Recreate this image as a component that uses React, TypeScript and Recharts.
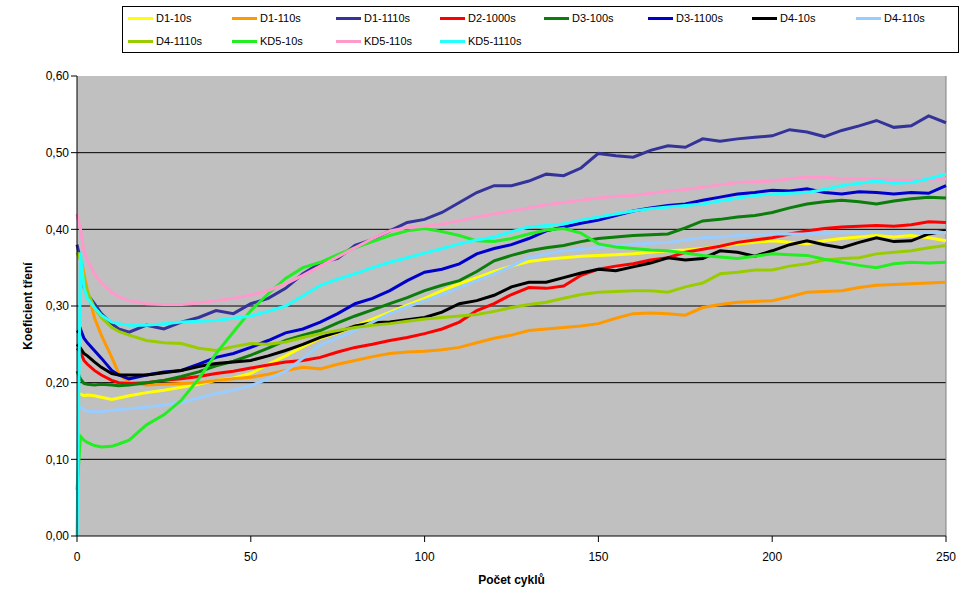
import React from 'react';
import { LineChart, Line, XAxis, YAxis, CartesianGrid, ReferenceLine } from 'recharts';

const cycles = [0, 1, 2, 3, 5, 7, 10, 12, 15,
  20, 25, 30, 35, 40, 45, 50, 55, 60, 65,
  70, 75, 80, 85, 90, 95, 100, 105, 110, 115,
  120, 125, 130, 135, 140, 145, 150, 155, 160, 165,
  170, 175, 180, 185, 190, 195, 200, 205, 210, 215,
  220, 225, 230, 235, 240, 245, 250];

const D1_10s = [0.186, 0.185, 0.183, 0.184, 0.183, 0.181, 0.178, 0.18, 0.183,
  0.187, 0.19, 0.194, 0.198, 0.203, 0.206, 0.212, 0.224, 0.235, 0.247,
  0.258, 0.265, 0.274, 0.283, 0.292, 0.301, 0.31, 0.32, 0.329, 0.337,
  0.345, 0.352, 0.358, 0.361, 0.363, 0.365, 0.366, 0.367, 0.368, 0.37,
  0.372, 0.373, 0.375, 0.378, 0.381, 0.383, 0.385, 0.383, 0.381, 0.385,
  0.388, 0.39, 0.392, 0.39, 0.392, 0.389, 0.385];

const D1_110s = [0.37, 0.365, 0.342, 0.32, 0.285, 0.262, 0.233, 0.212, 0.2,
  0.197, 0.198, 0.199, 0.2, 0.203, 0.205, 0.207, 0.211, 0.216, 0.22,
  0.218, 0.224, 0.229, 0.234, 0.238, 0.24, 0.241, 0.243, 0.246, 0.252,
  0.258, 0.262, 0.268, 0.27, 0.272, 0.274, 0.277, 0.284, 0.29, 0.291,
  0.29, 0.288, 0.298, 0.302, 0.305, 0.306, 0.307, 0.312, 0.318, 0.319,
  0.32, 0.324, 0.327, 0.328, 0.329, 0.33, 0.331];

const D1_1110s = [0.38, 0.36, 0.324, 0.315, 0.303, 0.29, 0.277, 0.27, 0.266,
  0.275, 0.27, 0.279, 0.285, 0.294, 0.29, 0.303, 0.31, 0.323, 0.342,
  0.356, 0.362, 0.379, 0.387, 0.398, 0.409, 0.413, 0.422, 0.435, 0.448,
  0.457, 0.457, 0.463, 0.472, 0.47, 0.48, 0.499, 0.496, 0.494, 0.503,
  0.509, 0.507, 0.518, 0.515, 0.518, 0.52, 0.522, 0.53, 0.527, 0.521,
  0.529, 0.535, 0.542, 0.533, 0.535, 0.548, 0.539];

const D2_1000s = [0.245, 0.24, 0.229, 0.224, 0.216, 0.21, 0.203, 0.2, 0.199,
  0.2, 0.203, 0.205, 0.208, 0.212, 0.215, 0.219, 0.223, 0.227, 0.229,
  0.233, 0.24, 0.246, 0.25, 0.255, 0.259, 0.264, 0.27, 0.279, 0.294,
  0.303, 0.315, 0.324, 0.323, 0.326, 0.34, 0.348, 0.352, 0.355, 0.36,
  0.363, 0.37, 0.374, 0.378, 0.383, 0.386, 0.389, 0.394, 0.398, 0.401,
  0.403, 0.404, 0.405, 0.404, 0.406, 0.41, 0.409];

const D3_100s = [0.215, 0.205, 0.199, 0.198, 0.197, 0.198, 0.197, 0.196, 0.197,
  0.2, 0.203, 0.208, 0.214, 0.222, 0.228, 0.236, 0.245, 0.255, 0.262,
  0.268, 0.278, 0.287, 0.295, 0.303, 0.311, 0.32, 0.327, 0.333, 0.345,
  0.359, 0.366, 0.372, 0.376, 0.379, 0.384, 0.388, 0.39, 0.392, 0.393,
  0.394, 0.402, 0.411, 0.413, 0.416, 0.418, 0.422, 0.428, 0.433, 0.436,
  0.438, 0.436, 0.433, 0.437, 0.44, 0.442, 0.441];

const D3_1100s = [0.265, 0.27, 0.258, 0.252, 0.242, 0.232, 0.216, 0.21, 0.205,
  0.21, 0.214, 0.216, 0.224, 0.233, 0.238, 0.246, 0.255, 0.265, 0.27,
  0.279, 0.29, 0.303, 0.31, 0.32, 0.333, 0.344, 0.348, 0.355, 0.368,
  0.375, 0.38, 0.388, 0.398, 0.403, 0.408, 0.412, 0.418, 0.424, 0.428,
  0.431, 0.433, 0.438, 0.442, 0.446, 0.448, 0.451, 0.45, 0.453, 0.448,
  0.446, 0.449, 0.448, 0.446, 0.448, 0.447, 0.457];

const D4_10s = [0.25, 0.245, 0.238, 0.235, 0.227, 0.22, 0.212, 0.21, 0.21,
  0.21, 0.213, 0.216, 0.221, 0.225, 0.227, 0.229, 0.235, 0.242, 0.25,
  0.259, 0.266, 0.274, 0.278, 0.279, 0.282, 0.285, 0.292, 0.303, 0.307,
  0.314, 0.325, 0.331, 0.331, 0.337, 0.343, 0.348, 0.346, 0.351, 0.356,
  0.363, 0.36, 0.362, 0.372, 0.37, 0.365, 0.372, 0.38, 0.385, 0.38,
  0.376, 0.383, 0.389, 0.384, 0.385, 0.394, 0.398];

const D4_110s = [0.17, 0.168, 0.165, 0.163, 0.162, 0.162, 0.164, 0.165, 0.166,
  0.168, 0.171, 0.174, 0.18, 0.186, 0.19, 0.196, 0.205, 0.215, 0.232,
  0.249, 0.258, 0.268, 0.279, 0.29, 0.299, 0.307, 0.315, 0.324, 0.333,
  0.342, 0.352, 0.363, 0.368, 0.372, 0.374, 0.376, 0.379, 0.381, 0.382,
  0.383, 0.386, 0.389, 0.39, 0.392, 0.393, 0.394, 0.394, 0.394, 0.395,
  0.396, 0.396, 0.396, 0.396, 0.396, 0.396, 0.396];

const D4_1110s = [0.37, 0.36, 0.333, 0.318, 0.298, 0.285, 0.272, 0.267, 0.262,
  0.255, 0.252, 0.251, 0.245, 0.242, 0.247, 0.251, 0.25, 0.253, 0.259,
  0.264, 0.268, 0.272, 0.275, 0.277, 0.28, 0.283, 0.285, 0.287, 0.289,
  0.293, 0.298, 0.302, 0.305, 0.31, 0.315, 0.318, 0.319, 0.32, 0.32,
  0.318, 0.325, 0.33, 0.342, 0.344, 0.347, 0.347, 0.352, 0.355, 0.36,
  0.362, 0.363, 0.368, 0.37, 0.372, 0.376, 0.379];

const KD5_10s = [0.06, 0.13, 0.125, 0.122, 0.118, 0.116, 0.117, 0.12, 0.125,
  0.145, 0.158, 0.177, 0.205, 0.238, 0.266, 0.294, 0.316, 0.336, 0.35,
  0.357, 0.367, 0.376, 0.384, 0.392, 0.398, 0.401, 0.397, 0.392, 0.385,
  0.384, 0.388, 0.394, 0.399, 0.401, 0.395, 0.381, 0.377, 0.375, 0.373,
  0.372, 0.369, 0.366, 0.364, 0.362, 0.365, 0.368, 0.367, 0.366, 0.361,
  0.357, 0.353, 0.35, 0.355, 0.357, 0.356, 0.357];

const KD5_110s = [0.42, 0.4, 0.372, 0.36, 0.342, 0.33, 0.318, 0.312, 0.307,
  0.303, 0.302, 0.302, 0.304, 0.307, 0.31, 0.314, 0.32, 0.329, 0.34,
  0.352, 0.364, 0.376, 0.388, 0.398, 0.402, 0.404, 0.407, 0.411, 0.416,
  0.42, 0.424, 0.428, 0.432, 0.435, 0.438, 0.441, 0.443, 0.444, 0.447,
  0.45, 0.452, 0.455, 0.458, 0.461, 0.462, 0.463, 0.466, 0.468, 0.468,
  0.466, 0.466, 0.465, 0.464, 0.464, 0.465, 0.466];

const KD5_1110s = [0, 0.37, 0.324, 0.31, 0.298, 0.288, 0.279, 0.277, 0.275,
  0.275, 0.277, 0.279, 0.28, 0.281, 0.284, 0.287, 0.293, 0.3, 0.313,
  0.327, 0.335, 0.342, 0.35, 0.357, 0.363, 0.369, 0.375, 0.381, 0.386,
  0.39, 0.397, 0.403, 0.405, 0.407, 0.412, 0.416, 0.42, 0.424, 0.427,
  0.429, 0.431, 0.433, 0.437, 0.441, 0.444, 0.446, 0.447, 0.448, 0.452,
  0.457, 0.46, 0.463, 0.46, 0.461, 0.466, 0.472];

const seriesNames = ['D1-10s', 'D1-110s', 'D1-1110s', 'D2-1000s', 'D3-100s', 'D3-1100s',
  'D4-10s', 'D4-110s', 'D4-1110s', 'KD5-10s', 'KD5-110s', 'KD5-1110s'];
const seriesValues = [D1_10s, D1_110s, D1_1110s, D2_1000s, D3_100s, D3_1100s,
  D4_10s, D4_110s, D4_1110s, KD5_10s, KD5_110s, KD5_1110s];
const seriesColors = ['#ffff00', '#ff9900', '#333399', '#ff0000', '#0a7d0a', '#0000cc',
  '#000000', '#99ccff', '#99cc00', '#22ee22', '#ff99cc', '#22ffff'];

const xTicks = [0, 50, 100, 150, 200, 250];
const yTicks = [0, 0.1, 0.2, 0.3, 0.4, 0.5, 0.6];
const gridValues = [0.1, 0.2, 0.3, 0.4, 0.5];
const xTitle = 'Počet cyklů';
const yTitle = 'Koeficient tření';

const data = cycles.map((c, i) => {
  const row: Record<string, number> = { c };
  seriesNames.forEach((n, k) => { row[n] = seriesValues[k][i]; });
  return row;
});

const FONT = '"Liberation Sans", Arial, sans-serif';

const fmt = (v: number) => v.toFixed(2).replace('.', ',');

function LegendBox() {
  return (
    <div style={{
      position: 'absolute', left: 122, top: 6, width: 835, height: 45,
      border: '1px solid #000', background: '#fff', fontFamily: FONT, fontSize: 11,
    }}>
      {seriesNames.map((n, i) => {
        const col = i % 8;
        const row = Math.floor(i / 8);
        return (
          <div key={n} style={{
            position: 'absolute', left: 5 + col * 104, top: 4 + row * 23, height: 14,
            display: 'flex', alignItems: 'center', whiteSpace: 'nowrap',
          }}>
            <span style={{ display: 'inline-block', width: 25, height: 3, background: seriesColors[i], marginRight: 3 }} />
            <span>{n}</span>
          </div>
        );
      })}
    </div>
  );
}

export default function App() {
  return (
    <div style={{ position: 'absolute', left: 0, top: 0, width: 971, height: 605, background: '#fff' }}>
      <LineChart width={971} height={605} data={data}
        margin={{ top: 76, right: 25, bottom: 39, left: 17 }}>
        <CartesianGrid fill="#c0c0c0" stroke="#000" strokeWidth={1} vertical={false}
          horizontalValues={gridValues} />
        <XAxis dataKey="c" type="number" domain={[0, 250]} ticks={xTicks} height={30}
          stroke="#000" tickMargin={10} tick={{ fill: '#000', fontSize: 12, fontFamily: FONT }}
          label={{ value: xTitle, position: 'insideBottom', offset: -18, fill: '#000', fontSize: 12, fontWeight: 'bold', fontFamily: FONT }} />
        <YAxis type="number" domain={[0, 0.6]} ticks={yTicks} width={60} stroke="#000"
          tickFormatter={fmt} tick={{ fill: '#000', fontSize: 12, fontFamily: FONT }}
          label={{ value: yTitle, angle: -90, position: 'insideLeft', offset: 11, fill: '#000', fontSize: 12, fontWeight: 'bold', fontFamily: FONT, style: { textAnchor: 'middle' } }} />
        <ReferenceLine x={250} stroke="#808080" strokeWidth={1} />
        {seriesNames.map((n, i) => (
          <Line key={n} dataKey={n} type="linear" stroke={seriesColors[i]} strokeWidth={3}
            dot={false} isAnimationActive={false} />
        ))}
      </LineChart>
      <LegendBox />
    </div>
  );
}
